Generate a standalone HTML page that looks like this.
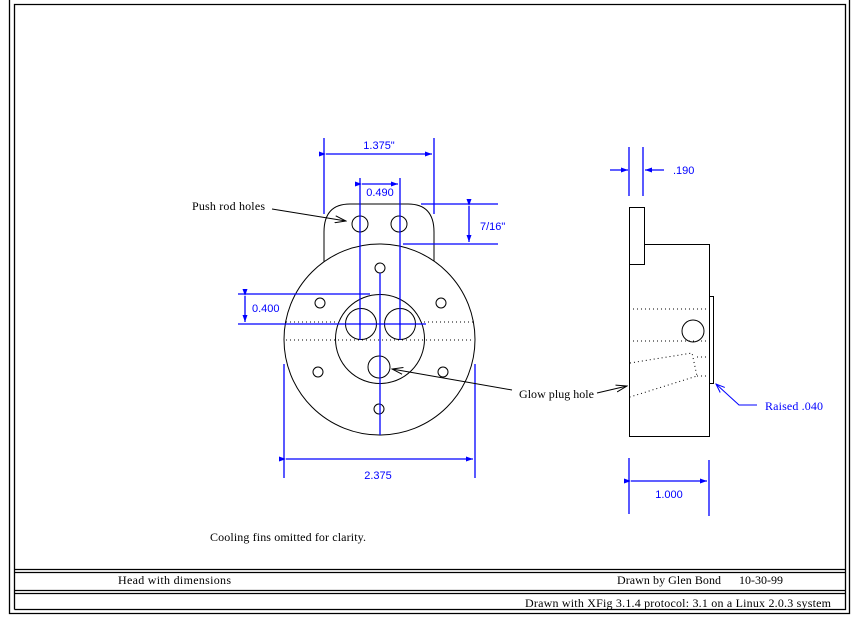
<!DOCTYPE html>
<html><head><meta charset="utf-8"><style>
html,body{margin:0;padding:0;background:#fff;}
svg{display:block;}
.k{fill:none;stroke:#000;stroke-width:1}
.b{fill:none;stroke:#0000ff;stroke-width:1.3}
.d{fill:none;stroke:#000;stroke-width:1;stroke-dasharray:1,3}
.t{font-family:"Liberation Serif",serif;font-size:12px;fill:#000}
.bt{font-family:"Liberation Sans",sans-serif;font-size:11px;fill:#0000ff}
</style></head><body>
<svg width="861" height="626" viewBox="0 0 861 626" xmlns="http://www.w3.org/2000/svg">
<defs>
<marker id="ab" markerWidth="8" markerHeight="6" refX="7" refY="3" orient="auto" markerUnits="userSpaceOnUse"><path d="M0,0.5 L7,3 L0,5.5 Z" fill="#0000ff"/></marker>
<marker id="ak" markerWidth="12" markerHeight="8" refX="11" refY="4" orient="auto" markerUnits="userSpaceOnUse"><path d="M0,0.5 L11,4 L0,7.5" fill="none" stroke="#000"/></marker>
<marker id="akb" markerWidth="10" markerHeight="8" refX="9" refY="4" orient="auto" markerUnits="userSpaceOnUse"><path d="M0,0.5 L9,4 L0,7.5" fill="none" stroke="#0000ff"/></marker>
</defs>
<!-- frame -->
<g stroke="#000" stroke-width="1.3" fill="none">
<path d="M9.5,0 V613.5 H849.5 V0"/>
<path d="M14.5,609.5 V4.5 H845.5 V609.5 H14.5"/>
<path d="M14,569.5 H845 M14,572.5 H845 M14,590.5 H845 M14,593.5 H845"/>
</g>
<!-- front view -->
<path class="k" d="M324,262 V232 Q324,204 350,204 H408 Q434,204 434,232 V261"/>
<circle class="k" cx="379.5" cy="339.5" r="95.5" fill="#fff" style="fill:#fff"/>
<circle class="k" cx="380" cy="339" r="44.5"/>
<circle class="k" cx="361" cy="324" r="15.5"/>
<circle class="k" cx="400" cy="324" r="15.5"/>
<circle class="k" cx="379" cy="367" r="11"/>
<circle class="k" cx="360" cy="224" r="8"/>
<circle class="k" cx="399" cy="224" r="8"/>
<circle class="k" cx="380" cy="268" r="5"/>
<circle class="k" cx="320" cy="303" r="5"/>
<circle class="k" cx="441" cy="303" r="5"/>
<circle class="k" cx="318" cy="372" r="5"/>
<circle class="k" cx="443" cy="372" r="5"/>
<circle class="k" cx="379" cy="409" r="5"/>
<path class="d" d="M286,322 H338 M424,322 H473 M286,340 H473"/>
<!-- blue dims front -->
<g class="b">
<path d="M380,273 V435"/>
<path d="M360,178 V340 M400,178 V340"/>
<path d="M362,184 H398" marker-start="url(#ab)" marker-end="url(#ab)"/>
<path d="M324,138 V214 M434,138 V214"/>
<path d="M326,154 H432" marker-start="url(#ab)" marker-end="url(#ab)"/>
<path d="M421,204 H498 M403,244 H498"/>
<path d="M469,206 V242" marker-start="url(#ab)" marker-end="url(#ab)"/>
<path d="M238,294 H370 M238,324 H426"/>
<path d="M245,296 V322" marker-start="url(#ab)" marker-end="url(#ab)"/>
<path d="M284,364 V478 M475,364 V478"/>
<path d="M286,459 H473" marker-start="url(#ab)" marker-end="url(#ab)"/>
</g>
<text class="bt" x="379" y="149" text-anchor="middle">1.375"</text>
<text class="bt" x="380" y="196" text-anchor="middle">0.490</text>
<text class="bt" x="480" y="230">7/16"</text>
<text class="bt" x="252" y="312">0.400</text>
<text class="bt" x="378" y="479" text-anchor="middle">2.375</text>
<!-- labels -->
<text class="t" x="192" y="210" textLength="73">Push rod holes</text>
<path class="k" d="M272,209 L346,221" marker-end="url(#ak)"/>
<text class="t" x="519" y="398" textLength="75">Glow plug hole</text>
<path class="k" d="M512,390 L392,369" marker-end="url(#ak)"/>
<path class="k" d="M597,393 L627,386" marker-end="url(#ak)"/>
<!-- side view -->
<rect class="k" x="629.5" y="207.5" width="15" height="57"/>
<path class="k" d="M644.5,244.5 H709.5 V436.5 H629.5 V264.5"/>
<rect class="k" x="709.5" y="296.5" width="4" height="87"/>
<path class="d" d="M633,309 H707 M633,341 H707"/>
<circle class="k" cx="693" cy="331" r="11"/>
<path class="d" d="M630,363 L692,353 L697,376 L630,397 M697,357 H708 M697,376 H708"/>
<g class="b">
<path d="M629,147 V196 M643,147 V196"/>
<path d="M610,170 H628" marker-end="url(#ab)"/>
<path d="M664,170 H645" marker-end="url(#ab)"/>
<path d="M629,458 V514 M709,460 V516"/>
<path d="M631,481 H707" marker-start="url(#ab)" marker-end="url(#ab)"/>
<path d="M757,405 H739 L716,384" marker-end="url(#akb)" stroke-width="1"/>
</g>
<text class="bt" x="673" y="174">.190</text>
<text class="bt" x="669" y="498" text-anchor="middle">1.000</text>
<text class="t" x="765" y="410" textLength="58" style="fill:#0000ff">Raised .040</text>
<!-- notes -->
<text class="t" x="210" y="541" textLength="156">Cooling fins omitted for clarity.</text>
<text class="t" x="118" y="584" textLength="113">Head with dimensions</text>
<text class="t" x="617" y="584" textLength="104">Drawn by Glen Bond</text>
<text class="t" x="739" y="584" textLength="44">10-30-99</text>
<text class="t" x="525" y="607" textLength="306">Drawn with XFig 3.1.4   protocol: 3.1 on a Linux 2.0.3 system</text>
</svg>
</body></html>
